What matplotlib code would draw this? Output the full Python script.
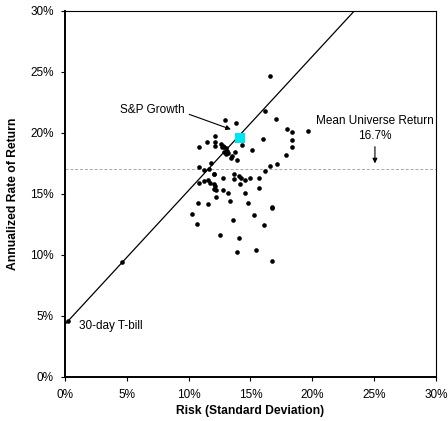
import matplotlib
matplotlib.use("Agg")
import matplotlib.pyplot as plt
from matplotlib.ticker import FuncFormatter

plt.rcParams['font.family'] = ['Liberation Sans', 'DejaVu Sans']

fund_risk = [4.61, 16.58, 16.17, 17.06, 12.94, 13.80, 17.98, 18.38, 19.65, 12.13, 16.01, 18.38,
             11.46, 12.13, 12.13, 14.29, 10.86, 18.38, 12.61, 12.75, 12.86, 12.99, 12.67, 13.07,
             13.21, 12.99, 12.88, 13.72, 15.09, 13.48, 13.45, 13.94, 17.84, 11.83, 17.17, 10.86,
             16.60, 11.24, 11.64, 16.17, 12.08, 12.08, 12.78, 13.69, 14.04, 14.20, 14.53, 14.93,
             15.66, 13.69, 11.24, 11.59, 10.81, 11.73, 14.12, 12.08, 12.13, 12.02, 12.18, 12.80,
             15.66, 13.18, 14.58, 10.73, 11.54, 12.21, 13.37, 14.82, 16.77, 16.71, 10.30, 15.26,
             10.65, 13.56, 16.09, 12.51, 14.10, 15.42, 13.91, 16.74]
fund_return = [9.38, 24.64, 21.77, 21.14, 21.08, 20.81, 20.29, 20.07, 20.18, 19.77, 19.50, 19.44,
               19.28, 19.28, 18.95, 19.00, 18.84, 18.84, 19.06, 18.95, 18.84, 18.73, 18.84, 18.51,
               18.32, 18.24, 18.46, 18.40, 18.57, 18.13, 17.91, 17.75, 18.18, 17.53, 17.47, 17.23,
               17.31, 16.98, 17.04, 16.87, 16.65, 16.60, 16.32, 16.65, 16.49, 16.32, 16.11, 16.27,
               16.32, 16.22, 16.05, 16.11, 15.86, 15.86, 15.78, 15.78, 15.61, 15.40, 15.29, 15.34,
               15.45, 15.04, 15.09, 14.25, 14.19, 14.71, 14.44, 14.25, 13.95, 13.81, 13.34, 13.29,
               12.50, 12.88, 12.44, 11.62, 11.35, 10.36, 10.20, 9.52]

tbill_risk, tbill_return = 0.27, 4.59
sp_risk, sp_return = 14.15, 19.61
mean_return = 17.0
line_x = [0.0, 23.4]
line_y = [4.3, 30.0]

xticks = [0, 5, 10, 15, 20, 25, 30]
yticks = [0, 5, 10, 15, 20, 25, 30]

FS = 8.5

fig = plt.figure(figsize=(4.48, 4.21), dpi=100)
ax = fig.add_axes([0.145, 0.105, 0.828, 0.869])

ax.plot(line_x, line_y, color='black', lw=0.9, zorder=2)
ax.axhline(mean_return, color='#a8a8a8', lw=0.7, ls=(0, (3, 2)), zorder=1)
ax.scatter(fund_risk, fund_return, s=11, color='black', zorder=3, linewidths=0)
ax.scatter([tbill_risk], [tbill_return], s=11, color='black', zorder=3, linewidths=0)
ax.scatter([sp_risk], [sp_return], s=55, marker='s', color='#00e5ee', zorder=4, linewidths=0)

arrow = dict(arrowstyle='-|>', color='black', lw=0.8, mutation_scale=7, shrinkA=0, shrinkB=0)
ax.text(7.1, 21.9, 'S&P Growth', fontsize=FS, ha='center', va='center')
ax.annotate('', xy=(13.42, 20.29), xytext=(10.05, 21.52), arrowprops=arrow)
ax.text(25.07, 21.0, 'Mean Universe Return', fontsize=FS, ha='center', va='center')
ax.text(25.07, 19.74, '16.7%', fontsize=FS, ha='center', va='center')
ax.annotate('', xy=(25.07, 17.5), xytext=(25.07, 18.87), arrowprops=arrow)
ax.text(1.16, 4.18, '30-day T-bill', fontsize=FS, ha='left', va='center')

ax.set_xlim(0, 30)
ax.set_ylim(0, 30)
ax.set_xticks(xticks)
ax.set_yticks(yticks)
fmt = FuncFormatter(lambda v, p: f'{v:.0f}%')
ax.xaxis.set_major_formatter(fmt)
ax.yaxis.set_major_formatter(fmt)
ax.tick_params(axis='both', labelsize=FS, direction='out', length=3, width=0.8)
ax.tick_params(axis='y', pad=5)
ax.tick_params(axis='x', pad=6)
ax.spines['left'].set_linewidth(1.4)
ax.spines['bottom'].set_linewidth(1.4)
ax.spines['top'].set_linewidth(0.8)
ax.spines['right'].set_linewidth(0.8)
ax.set_xlabel('Risk (Standard Deviation)', fontsize=8.7, fontweight='bold', labelpad=3)
ax.set_ylabel('Annualized Rate of Return', fontsize=8.7, fontweight='bold', labelpad=8)

fig.savefig('out.png', dpi=100)
